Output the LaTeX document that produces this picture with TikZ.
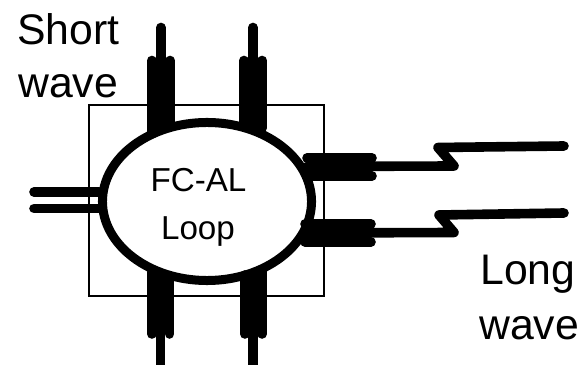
\documentclass[tikz,border=0pt]{standalone}
\usepackage{fontspec}
\setmainfont{Liberation Sans}
\usetikzlibrary{shapes.geometric}
\begin{document}
\begin{tikzpicture}[x=0.025cm,y=-0.025cm,fibre/.style={line width=0.24cm,line cap=round,line join=round},loopring/.style={shape=ellipse,draw=black,line width=0.225cm,fill=white,inner sep=0pt,minimum width=5.225cm,minimum height=3.95cm},biglabel/.style={anchor=base west,inner sep=0pt,font=\fontsize{30.4}{30.4}\selectfont},looplabel/.style={anchor=base,inner sep=0pt,font=\fontsize{23.6}{23.6}\selectfont}]
\useasboundingbox (0,0) rectangle (578,365);
\node[draw=black,line width=0.8pt,inner sep=0pt,minimum width=5.875cm,minimum height=4.775cm] (board) at (206.5,200.5) {};
\node[loopring] (ring) at (207,201.5) {};
% short wave ports on top
\coordinate (ta1) at (151.75,60.5);
\coordinate (ta2) at (151.75,134);
\coordinate (ta3) at (161,27.5);
\coordinate (ta4) at (161,126);
\coordinate (ta5) at (170.25,60.5);
\coordinate (ta6) at (170.25,124);
\coordinate (tb1) at (244,60.5);
\coordinate (tb2) at (244,122);
\coordinate (tb3) at (253,27.5);
\coordinate (tb4) at (253,126);
\coordinate (tb5) at (262.25,60.5);
\coordinate (tb6) at (262.25,128);
\draw[fibre] (ta1) -- (ta2);
\draw[fibre] (ta3) -- (ta4);
\draw[fibre] (ta5) -- (ta6);
\draw[fibre] (tb1) -- (tb2);
\draw[fibre] (tb3) -- (tb4);
\draw[fibre] (tb5) -- (tb6);
% ports below
\coordinate (ba1) at (151.75,272);
\coordinate (ba2) at (151.75,334);
\coordinate (ba3) at (160.5,277);
\coordinate (ba4) at (160.5,366);
\coordinate (ba5) at (169.5,276);
\coordinate (ba6) at (169.5,334);
\coordinate (bb1) at (244.75,275);
\coordinate (bb2) at (244.75,334);
\coordinate (bb3) at (253,277);
\coordinate (bb4) at (253,366);
\coordinate (bb5) at (262.25,270);
\coordinate (bb6) at (262.25,334);
\draw[fibre] (ba1) -- (ba2);
\draw[fibre] (ba3) -- (ba4);
\draw[fibre] (ba5) -- (ba6);
\draw[fibre] (bb1) -- (bb2);
\draw[fibre] (bb3) -- (bb4);
\draw[fibre] (bb5) -- (bb6);
% left pair
\coordinate (la1) at (34,192);
\coordinate (la2) at (99,192);
\coordinate (lb1) at (34,208.5);
\coordinate (lb2) at (99,208.5);
\draw[fibre] (la1) -- (la2);
\draw[fibre] (lb1) -- (lb2);
% long wave ports
\coordinate (ra1) at (307,158);
\coordinate (ra2) at (372,158);
\coordinate (ra3) at (307,176);
\coordinate (ra4) at (372,176);
\coordinate (ra5) at (307,166.5);
\coordinate (ra6) at (454,166);
\coordinate (ra7) at (438,147.5);
\coordinate (ra8) at (564,146);
\coordinate (rb1) at (305,224);
\coordinate (rb2) at (371,224);
\coordinate (rb3) at (305,242);
\coordinate (rb4) at (371,242);
\coordinate (rb5) at (305,233);
\coordinate (rb6) at (454,232.5);
\coordinate (rb7) at (439,215);
\coordinate (rb8) at (564,213);
\draw[fibre] (ra1) -- (ra2);
\draw[fibre] (ra3) -- (ra4);
\draw[fibre] (ra5) -- (ra6) -- (ra7) -- (ra8);
\draw[fibre] (rb1) -- (rb2);
\draw[fibre] (rb3) -- (rb4);
\draw[fibre] (rb5) -- (rb6) -- (rb7) -- (rb8);
\node[looplabel] (fcal) at (198.5,192) {FC-AL};
\node[looplabel] (looptext) at (198,240) {Loop};
\node[biglabel] (shortlabel) at (17,45) {Short};
\node[biglabel] (shortwave) at (18,98) {wave};
\node[biglabel] (longlabel) at (480,285) {Long};
\node[biglabel] (longwave) at (479,340) {wave};
\end{tikzpicture}
\end{document}
